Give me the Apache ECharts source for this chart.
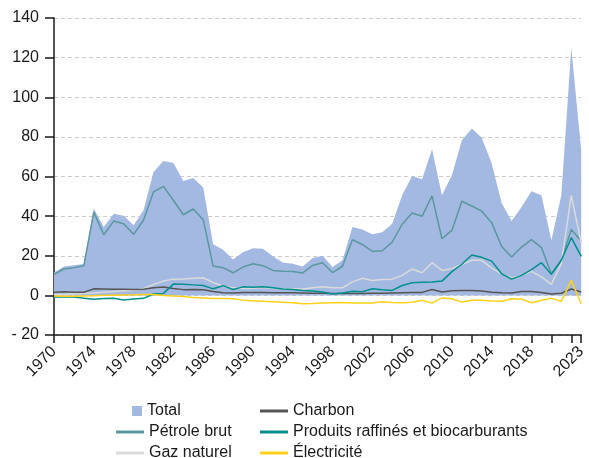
<!DOCTYPE html>
<html>
<head>
<meta charset="utf-8">
<script src="https://cdn.jsdelivr.net/npm/echarts@6/dist/echarts.min.js"></script>
<style>
  html, body { margin: 0; padding: 0; background: #fff; }
  #chart { width: 589px; height: 458px; }
</style>
</head>
<body>
<div id="chart"></div>
<script>
const years = []
for (let y = 1970; y <= 2023; y++) years.push(String(y))

const total = [11.5, 14.6, 15.2, 15.8, 43.8, 34.5, 41.2, 40.2, 35.4, 43, 62.3, 67.8, 66.8, 57.7, 59.2, 54.4, 25.8, 23, 18.1, 21.8,
  23.8, 23.5, 19.7, 16.6, 16, 14.6, 18.9, 20, 14.3, 17.7, 34.5, 33.2, 30.8, 31.8, 36.2, 50.5, 60.3, 58.6, 73.7, 50.5,
  60.6, 78.3, 84.2, 79.5, 66.5, 46.6, 37.5, 44.6, 52.5, 50.5, 27.8, 50.5, 125, 73.2]
const petrole = [10.6, 13.3, 14, 15, 42, 30.6, 37.5, 36.2, 30.8, 37.9, 52.2, 55, 48, 40.7, 43.6, 38.2, 14.8, 14, 11.4, 14.3,
  16, 15, 12.6, 12.2, 12, 11.3, 15.1, 16.5, 11.5, 14.7, 28.1, 25.7, 22.2, 22.5, 26.9, 35.9, 41.6, 39.9, 50.2, 28.6,
  32.8, 47.5, 45.1, 42.5, 36.7, 24.7, 19.4, 24.4, 28.1, 24.1, 10.9, 17.7, 33.3, 27.4]
const gaz = [0.5, 0.6, 0.8, 1, 1.2, 1.6, 2, 2.3, 2.5, 3.4, 5.5, 7.2, 8.2, 8.3, 8.6, 8.9, 6.5, 4.6, 3.9, 3.5,
  3.6, 4, 3.5, 3.4, 3.3, 3.2, 3.8, 4.3, 3.9, 3.8, 6.8, 8.6, 7.5, 8, 8.2, 10.1, 13.3, 11.4, 16.5, 12.6,
  13.5, 15.7, 17.7, 17.7, 13.8, 10.9, 8.8, 10.1, 12.1, 9.3, 5.6, 16, 50.5, 26.4]
const charbon = [1.6, 1.8, 1.6, 1.6, 3.3, 3.2, 3.1, 3.1, 3, 3.1, 3.8, 4.2, 3.5, 2.9, 3, 2.8, 2, 1.3, 1.2, 1.4,
  1.4, 1.4, 1.3, 1.3, 1.3, 1.2, 1.1, 1.1, 0.9, 1, 1, 1, 1.1, 1.1, 1.2, 1.3, 1.4, 1.5, 3, 1.7,
  2.3, 2.4, 2.5, 2.2, 1.6, 1.3, 1.2, 2, 2, 1.5, 0.7, 1.1, 3.2, 1.7]
const produits = [-0.8, -0.8, -0.8, -1.4, -2, -1.6, -1.5, -2.3, -1.8, -1.5, 0.7, 1, 5.7, 5.6, 5.3, 5, 3.3, 4.9, 3, 4.3,
  4.1, 4.3, 3.8, 3.2, 3, 2.5, 2.2, 1.7, 0.7, 1.2, 2.1, 1.8, 3.3, 2.8, 2.5, 5, 6.4, 6.6, 6.7, 7.2,
  12, 15.7, 20.4, 19.2, 17.3, 10.9, 8.2, 10.1, 13, 16.5, 10.6, 17.7, 29.1, 19.7]
const electricite = [-0.3, -0.4, -0.4, -0.3, -0.2, 0, 0.1, 0.2, 0.3, 0.5, 0.5, -0.1, -0.3, -0.6, -1.1, -1.3, -1.6, -1.6, -1.7, -2.4,
  -2.7, -3, -3.2, -3.5, -3.7, -4.2, -4.1, -3.9, -3.7, -3.6, -3.8, -3.9, -3.8, -3.2, -3.6, -3.7, -3.5, -2.5, -3.9, -1.3,
  -1.7, -3.4, -2.5, -2.4, -2.9, -3, -1.7, -1.9, -3.7, -2.5, -1.5, -3, 7.6, -4.2]

const font = 'Liberation Sans, Arial, Helvetica, sans-serif'
const lastIdx = years.length - 1

function lineSeries(name, data, color) {
  return {
    name: name,
    type: 'line',
    data: data,
    symbol: 'none',
    lineStyle: { color: color, width: 1.5 },
    itemStyle: { color: color }
  }
}

// one legend per entry, so the two columns sit where they should
function legendItem(name, left, top, square) {
  return {
    data: [{ name: name, icon: 'rect' }],
    left: left,
    top: top,
    padding: 0,
    itemWidth: square ? 10 : 28,
    itemHeight: square ? 10 : 3,
    textStyle: { fontFamily: font, fontSize: 16, color: '#1a1a1a', lineHeight: 18 }
  }
}

const option = {
  animation: false,
  grid: { left: 54, right: 4, top: 18, bottom: 123 },
  xAxis: {
    type: 'category',
    data: years,
    boundaryGap: false,
    axisLine: { onZero: false, lineStyle: { color: '#1a1a1a', width: 1.5 } },
    axisTick: {
      length: 8,
      lineStyle: { color: '#1a1a1a', width: 1.5 },
      interval: (i) => i % 2 === 0 || i === lastIdx
    },
    axisLabel: {
      rotate: 45,
      margin: 14,
      fontFamily: font,
      fontSize: 16,
      color: '#1a1a1a',
      interval: (i) => (i % 4 === 0 && i <= 48) || i === lastIdx
    }
  },
  yAxis: {
    type: 'value',
    min: -20,
    max: 140,
    interval: 20,
    axisLine: { show: true, lineStyle: { color: '#1a1a1a', width: 1.5 } },
    axisTick: { show: true, length: 9, lineStyle: { color: '#1a1a1a', width: 1.5 } },
    axisLabel: {
      margin: 15,
      fontFamily: font,
      fontSize: 16,
      color: '#1a1a1a',
      formatter: (v) => v < 0 ? '- ' + Math.abs(v) : String(v)
    },
    splitLine: { lineStyle: { color: '#cccccc', type: [4, 3], width: 1 } }
  },
  legend: [
    legendItem('Total', 132, 402, true),
    legendItem('Pétrole brut', 116, 423),
    legendItem('Gaz naturel', 116, 444),
    legendItem('Charbon', 260, 402),
    legendItem('Produits raffinés et biocarburants', 260, 423),
    legendItem('Électricité', 260, 444)
  ],
  series: [
    {
      name: 'Total',
      type: 'line',
      data: total,
      symbol: 'none',
      lineStyle: { width: 0 },
      itemStyle: { color: '#a4b9e1' },
      areaStyle: { color: '#a4b9e1', opacity: 1 }
    },
    lineSeries('Pétrole brut', petrole, '#5a98a0'),
    lineSeries('Gaz naturel', gaz, '#dadada'),
    lineSeries('Charbon', charbon, '#555555'),
    lineSeries('Produits raffinés et biocarburants', produits, '#00908c'),
    lineSeries('Électricité', electricite, '#fcd116')
  ]
}

const chart = echarts.init(document.getElementById('chart'))
chart.setOption(option)
</script>
</body>
</html>
